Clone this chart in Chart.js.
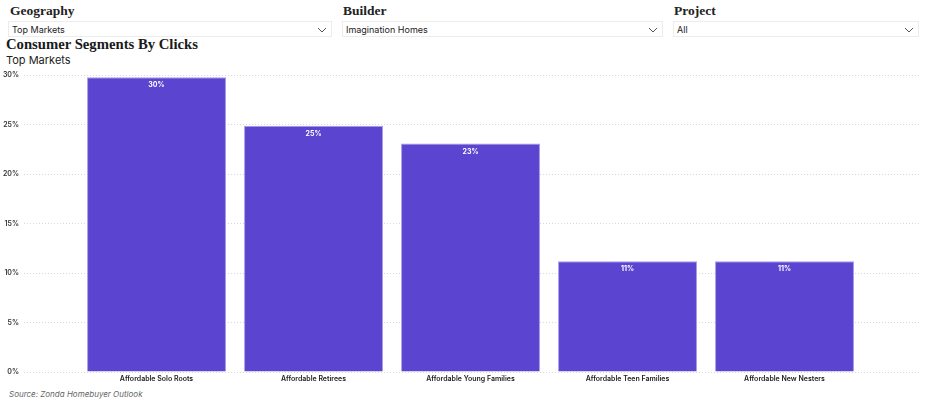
<!DOCTYPE html>
<html>
<head>
<meta charset="utf-8">
<script src="https://cdn.jsdelivr.net/npm/chart.js@4.4.1/dist/chart.umd.min.js"></script>
<style>
  body { margin: 0; background: #fff; width: 936px; height: 403px; position: relative; overflow: hidden; font-family: Inter, "Noto Sans", sans-serif; }
  .flabel { position: absolute; top: 3px; font-family: "Liberation Serif", serif; font-weight: bold; font-size: 13.5px; color: #222; }
  .drop { position: absolute; top: 21px; height: 16px; border: 1px solid #ececec; box-sizing: border-box; font-size: 9px; color: #222; line-height: 15px; padding-left: 3px; }
  .drop svg { position: absolute; right: 4px; top: 5px; }
  #title { position: absolute; left: 6px; top: 36px; font-family: "Liberation Serif", serif; font-weight: bold; font-size: 14.7px; color: #1a1a1a; }
  #subtitle { position: absolute; left: 6px; top: 53px; font-size: 11px; color: #222; }
  #source { position: absolute; left: 9px; top: 389px; font-size: 8px; font-style: italic; color: #666; }
  #wrap { position: absolute; left: 0; top: 66px; width: 936px; height: 320px; }
</style>
</head>
<body>
<div class="flabel" style="left:10px">Geography</div>
<div class="flabel" style="left:343px">Builder</div>
<div class="flabel" style="left:674px">Project</div>
<div class="drop" style="left:8px;width:324px">Top Markets<svg width="10" height="6"><polyline points="1,1 5,5 9,1" fill="none" stroke="#555" stroke-width="1"/></svg></div>
<div class="drop" style="left:342px;width:321px">Imagination Homes<svg width="10" height="6"><polyline points="1,1 5,5 9,1" fill="none" stroke="#555" stroke-width="1"/></svg></div>
<div class="drop" style="left:673px;width:246px">All<svg width="10" height="6"><polyline points="1,1 5,5 9,1" fill="none" stroke="#555" stroke-width="1"/></svg></div>
<div id="title">Consumer Segments By Clicks</div>
<div id="subtitle">Top Markets</div>
<div id="wrap"><canvas id="myChart"></canvas></div>
<div id="source">Source: Zonda Homebuyer Outlook</div>
<script>
//data
let segments = ['Affordable Solo Roots', 'Affordable Retirees', 'Affordable Young Families', 'Affordable Teen Families', 'Affordable New Nesters'];
let clickShare = [29.8, 24.9, 23.1, 11.2, 11.2];
let yTicks = [0, 5, 10, 15, 20, 25, 30];

// white labels inside the top of each bar
let barLabels = {
    id: 'barLabels',
    afterDatasetsDraw: function (chart) {
        let ctx = chart.ctx;
        let meta = chart.getDatasetMeta(0);
        ctx.save();
        ctx.fillStyle = '#fff';
        ctx.font = 'bold 7px Inter, sans-serif';
        ctx.textAlign = 'center';
        ctx.textBaseline = 'middle';
        meta.data.forEach(function (bar, i) {
            ctx.fillText(Math.round(clickShare[i]) + '%', bar.x, bar.y + 8);
        });
        ctx.restore();
    }
};

let ctx = document.getElementById('myChart').getContext('2d');
let chart = new Chart(ctx, {
    type: 'bar',
    data: {
        datasets: [{
            data: clickShare.map(function (v, i) { return { x: i, y: v }; }),
            backgroundColor: '#5b44cf',
            borderColor: '#a899ec',
            borderWidth: 1,
            barPercentage: 0.885,
            categoryPercentage: 1
        }]
    },
    options: {
        responsive: true,
        maintainAspectRatio: false,
        animation: false,
        layout: { padding: { top: 8, right: 16, left: 0, bottom: 0 } },
        plugins: { legend: { display: false }, tooltip: { enabled: false } },
        scales: {
            x: {
                type: 'linear',
                offset: false,
                min: -0.844,
                max: 4.863,
                afterBuildTicks: function (axis) {
                    axis.ticks = segments.map(function (s, i) { return { value: i }; });
                },
                afterFit: function (axis) { axis.height = 14; },
                grid: { display: false, drawTicks: false, offset: false },
                border: { display: false },
                ticks: {
                    padding: 3,
                    maxRotation: 0,
                    autoSkip: false,
                    color: '#222',
                    font: { family: 'Inter, sans-serif', size: 7, weight: '600' },
                    callback: function (v) { return segments[v]; }
                }
            },
            y: {
                min: 0,
                max: 30,
                afterBuildTicks: function (axis) {
                    axis.ticks = yTicks.map(function (v) { return { value: v }; });
                },
                afterFit: function (axis) { axis.width = 24; },
                grid: { color: '#d8d8d8', drawTicks: false, lineWidth: 1 },
                border: { display: false, dash: [1, 2] },
                ticks: {
                    padding: 5,
                    color: '#333',
                    font: { family: 'Inter, sans-serif', size: 7, weight: '600' },
                    callback: function (v) { return v + '%'; }
                }
            }
        }
    },
    plugins: [barLabels]
});
</script>
</body>
</html>
